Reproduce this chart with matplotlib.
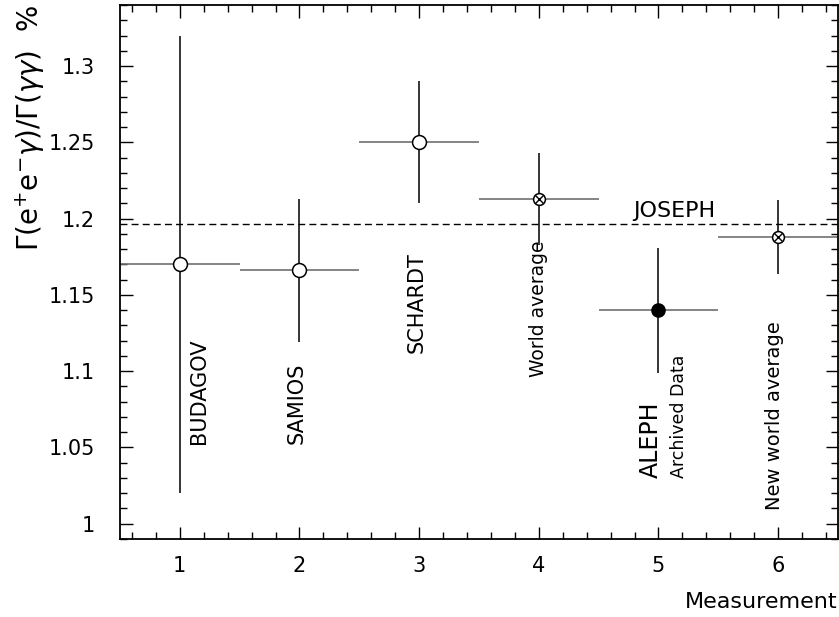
import matplotlib
matplotlib.use("Agg")
from matplotlib import pyplot as plt
from matplotlib.ticker import MultipleLocator

names = ['BUDAGOV', 'SAMIOS', 'SCHARDT', 'World average', 'ALEPH', 'New world average']
x_pos = [1, 2, 3, 4, 5, 6]
ratio = [1.170, 1.166, 1.250, 1.213, 1.140, 1.188]
ratio_err = [0.150, 0.047, 0.040, 0.030, 0.041, 0.024]
x_err = [0.5, 0.5, 0.5, 0.5, 0.5, 0.5]
kind = ['open', 'open', 'open', 'avg', 'filled', 'avg']
joseph = 1.1965

# label anchors (x, bottom y, size)
label_x = [1.16, 1.98, 2.98, 4.0, 4.94, 5.97]
label_y = [1.052, 1.052, 1.112, 1.096, 1.030, 1.009]
label_size = [15, 15, 15, 13.5, 17, 14]

plt.rcParams['font.family'] = ['DejaVu Sans']
plt.rcParams['mathtext.fontset'] = 'dejavusans'

fig = plt.figure(figsize=(8.39, 6.17), dpi=100)
ax = fig.add_axes([0.143, 0.1264, 0.8558, 0.8655])

ax.axhline(joseph, color='black', lw=1.0, ls=(0, (5, 3)), zorder=1)
ax.text(5.13, 1.2049, 'JOSEPH', fontsize=16, ha='center', va='center')

for i in range(len(x_pos)):
    ax.errorbar(x_pos[i], ratio[i], xerr=x_err[i], fmt='none', ecolor='#707070', elinewidth=1.2, capsize=0, zorder=2)
    ax.errorbar(x_pos[i], ratio[i], yerr=ratio_err[i], fmt='none', ecolor='black', elinewidth=1.1, capsize=0, zorder=2)
    if kind[i] == 'open':
        ax.plot(x_pos[i], ratio[i], 'o', ms=10, mfc='white', mec='black', mew=1.1, zorder=3)
    elif kind[i] == 'filled':
        ax.plot(x_pos[i], ratio[i], 'o', ms=9.5, mfc='black', mec='black', zorder=3)
    else:
        ax.plot(x_pos[i], ratio[i], 'o', ms=8.5, mfc='white', mec='black', mew=1.1, zorder=3)
        ax.plot(x_pos[i], ratio[i], 'x', ms=6, mec='black', mew=1.0, zorder=4)

for i in range(len(names)):
    ax.text(label_x[i], label_y[i], names[i], rotation=90, ha='center', va='bottom', fontsize=label_size[i])
ax.text(5.175, 1.030, 'Archived Data', rotation=90, ha='center', va='bottom', fontsize=12.5)

ax.set_xlim(0.5, 6.5)
ax.set_ylim(0.99, 1.34)
ax.set_xticks(x_pos)
ax.set_yticks([1, 1.05, 1.1, 1.15, 1.2, 1.25, 1.3])
ax.set_yticklabels(['1', '1.05', '1.1', '1.15', '1.2', '1.25', '1.3'])
ax.xaxis.set_minor_locator(MultipleLocator(0.2))
ax.yaxis.set_minor_locator(MultipleLocator(0.01))
ax.tick_params(which='both', direction='in', top=True, right=True, labelsize=15, width=1.0)
ax.tick_params(which='major', length=9)
ax.tick_params(which='minor', length=5)
ax.tick_params(axis='y', pad=18)
ax.tick_params(axis='x', pad=12)
for s in ax.spines.values():
    s.set_linewidth(1.3)

ax.set_xlabel('Measurement', fontsize=16, loc='right', labelpad=12)
ax.text(-0.125, 1.0, r'$\Gamma(\mathrm{e}^{+}\mathrm{e}^{-}\gamma)/\Gamma(\gamma\gamma)$  %',
        rotation=90, ha='center', va='top', fontsize=20, transform=ax.transAxes)

fig.savefig('out.png', dpi=100)
